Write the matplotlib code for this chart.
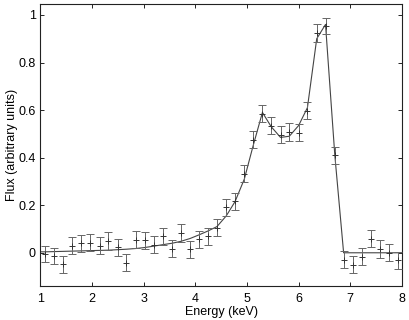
import matplotlib
matplotlib.use('Agg')
import matplotlib.pyplot as plt

plt.rcParams['font.family'] = ['Liberation Sans', 'DejaVu Sans']

# bin centres (keV), measured flux and 1-sigma errors
energy = [1.10, 1.27, 1.45, 1.62, 1.80, 1.97, 2.15, 2.32, 2.50, 2.67,
          2.85, 3.02, 3.20, 3.37, 3.55, 3.72, 3.90, 4.07, 4.25, 4.42,
          4.60, 4.77, 4.95, 5.12, 5.30, 5.47, 5.65, 5.82, 6.00, 6.17,
          6.35, 6.52, 6.70, 6.87, 7.05, 7.22, 7.40, 7.57, 7.75, 7.92]
flux = [-0.005, -0.013, -0.048, 0.030, 0.040, 0.043, 0.030, 0.048, 0.024, -0.041,
        0.055, 0.052, 0.034, 0.069, 0.017, 0.083, 0.014, 0.057, 0.069, 0.105,
        0.192, 0.216, 0.333, 0.476, 0.585, 0.535, 0.497, 0.508, 0.505, 0.597,
        0.923, 0.953, 0.410, -0.030, -0.050, -0.017, 0.059, 0.016, 0.001, -0.031]
flux_err = [0.035, 0.035, 0.036, 0.036, 0.036, 0.036, 0.036, 0.038, 0.036, 0.036,
            0.036, 0.036, 0.036, 0.035, 0.036, 0.037, 0.036, 0.036, 0.036, 0.036,
            0.036, 0.036, 0.036, 0.036, 0.035, 0.036, 0.036, 0.036, 0.036, 0.036,
            0.037, 0.035, 0.036, 0.036, 0.036, 0.036, 0.036, 0.036, 0.036, 0.036]

# model curve
model_e = [1.00] + energy + [8.00]
model_flux = [0.004, 0.004, 0.005, 0.006, 0.007, 0.008, 0.009, 0.010, 0.011, 0.013, 0.015,
              0.018, 0.022, 0.028, 0.034, 0.040, 0.048, 0.060, 0.075, 0.092, 0.110,
              0.155, 0.215, 0.310, 0.450, 0.590, 0.530, 0.485, 0.490, 0.535, 0.610,
              0.900, 0.960, 0.410, 0.000, 0.000, 0.000, 0.000, 0.000, 0.000, 0.000,
              0.000]

xticks = [1, 2, 3, 4, 5, 6, 7, 8]
yticks = [0, 0.2, 0.4, 0.6, 0.8, 1]
ylabels = ['0', '0.2', '0.4', '0.6', '0.8', '1']

fig = plt.figure(figsize=(4.09, 3.2), dpi=100)
ax = fig.add_axes([0.098, 0.106, 0.885, 0.8815])

ax.plot(model_e, model_flux, color='#444444', lw=0.8, zorder=2)
ax.errorbar(energy, flux, yerr=flux_err, fmt='+', color='#333333', ms=4, mew=0.7,
            ecolor='#666666', elinewidth=0.7, capsize=2.6, capthick=0.7, zorder=3)

ax.set_xlim(1, 8)
ax.set_ylim(-0.14, 1.046)
ax.set_xticks(xticks)
ax.set_yticks(yticks)
ax.set_yticklabels(ylabels)
ax.tick_params(direction='in', top=True, right=True, length=3, width=0.6,
               labelsize=9, pad=3, colors='black')
ax.tick_params(axis='x', pad=5)
for s in ax.spines.values():
    s.set_linewidth(0.8)
    s.set_color('#222222')

ax.set_xlabel('Energy (keV)', fontsize=9, labelpad=1)
ax.set_ylabel('Flux (arbitrary units)', fontsize=9, labelpad=0.5)

fig.savefig('out.png', dpi=100, facecolor='white')
